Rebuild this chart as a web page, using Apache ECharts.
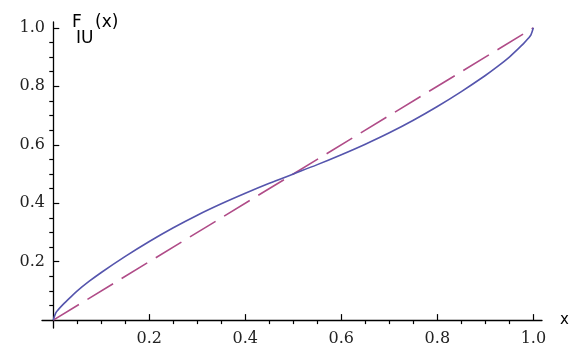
<!DOCTYPE html>
<html>
<head>
<meta charset="utf-8">
<script src="https://cdn.jsdelivr.net/npm/echarts@6/dist/echarts.min.js"></script>
<style>
  html, body { margin: 0; padding: 0; background: #fff; }
  #chart { width: 584px; height: 359px; }
</style>
</head>
<body>
<div id="chart"></div>
<script>
// values
const xValues = [0, 0.005, 0.01, 0.02, 0.035, 0.05, 0.075, 0.1, 0.15, 0.2, 0.25, 0.3, 0.35, 0.4, 0.45, 0.5,
  0.55, 0.6, 0.65, 0.7, 0.75, 0.8, 0.85, 0.9, 0.925, 0.95, 0.965, 0.98, 0.99, 0.995, 1];
const fIU = [0, 0.024, 0.035, 0.053, 0.077, 0.1, 0.133, 0.163, 0.218, 0.269, 0.316, 0.359, 0.398, 0.434, 0.468, 0.5,
  0.532, 0.566, 0.602, 0.641, 0.684, 0.731, 0.782, 0.837, 0.867, 0.9, 0.923, 0.947, 0.965, 0.976, 1];
const diagX = [0, 1];
const diagY = [0, 1];
const majorTicks = [0.2, 0.4, 0.6, 0.8, 1.0];
const minorTicks = [0.05, 0.1, 0.15, 0.25, 0.3, 0.35, 0.45, 0.5, 0.55, 0.65, 0.7, 0.75, 0.85, 0.9, 0.95];

const chart = echarts.init(document.getElementById("chart"));

const labelStyle = {
  color: "#222",
  fontFamily: "'DejaVu Serif', serif",
  fontSize: 16
};

function mainAxis(extra) {
  return Object.assign({
    type: "value",
    min: -0.0235,
    max: 1.018,
    splitLine: { show: false },
    axisLine: { onZero: true, lineStyle: { color: "#000", width: 1.3 } },
    axisTick: {
      inside: true,
      length: 6,
      customValues: majorTicks,
      lineStyle: { color: "#000", width: 1.2 }
    }
  }, extra);
}

function minorAxis(extra) {
  return Object.assign({
    type: "value",
    min: -0.0235,
    max: 1.018,
    splitLine: { show: false },
    axisLine: { show: false, onZero: true },
    axisLabel: { show: false },
    axisTick: {
      inside: true,
      length: 4,
      customValues: minorTicks,
      lineStyle: { color: "#000", width: 1.2 }
    }
  }, extra);
}

chart.setOption({
  animation: false,
  grid: { left: 42, right: 42, top: 22, bottom: 31, containLabel: false, outerBoundsMode: "none" },
  xAxis: [
    mainAxis({
      name: "x",
      nameLocation: "end",
      nameGap: 18,
      nameTextStyle: { color: "#000", fontFamily: "DejaVu Sans", fontSize: 15, verticalAlign: "middle" },
      axisLabel: Object.assign({ customValues: majorTicks, formatter: (v) => v.toFixed(1), margin: 3 }, labelStyle)
    }),
    minorAxis({})
  ],
  yAxis: [
    mainAxis({
      min: -0.027,
      max: 1.02,
      axisLabel: Object.assign({ customValues: majorTicks, formatter: (v) => v.toFixed(1), margin: -3 }, labelStyle)
    }),
    minorAxis({ min: -0.027, max: 1.02 })
  ],
  graphic: [
    { type: "text", left: 72, top: 14, style: { text: "F", fill: "#000", font: "17px 'DejaVu Sans'" } },
    { type: "text", left: 76, top: 30, style: { text: "IU", fill: "#000", font: "17px 'DejaVu Sans'" } },
    { type: "text", left: 95, top: 14, style: { text: "(x)", fill: "#000", font: "17px 'DejaVu Sans'" } }
  ],
  series: [
    {
      type: "line",
      data: xValues.map((x, i) => [x, fIU[i]]),
      smooth: 0.3,
      showSymbol: false,
      lineStyle: { color: "#5555ad", width: 1.6 },
      z: 3
    },
    {
      type: "line",
      data: diagX.map((x, i) => [x, diagY[i]]),
      showSymbol: false,
      lineStyle: { color: "#b04c88", width: 1.6, type: [30, 10] },
      z: 2
    }
  ]
});
</script>
</body>
</html>
